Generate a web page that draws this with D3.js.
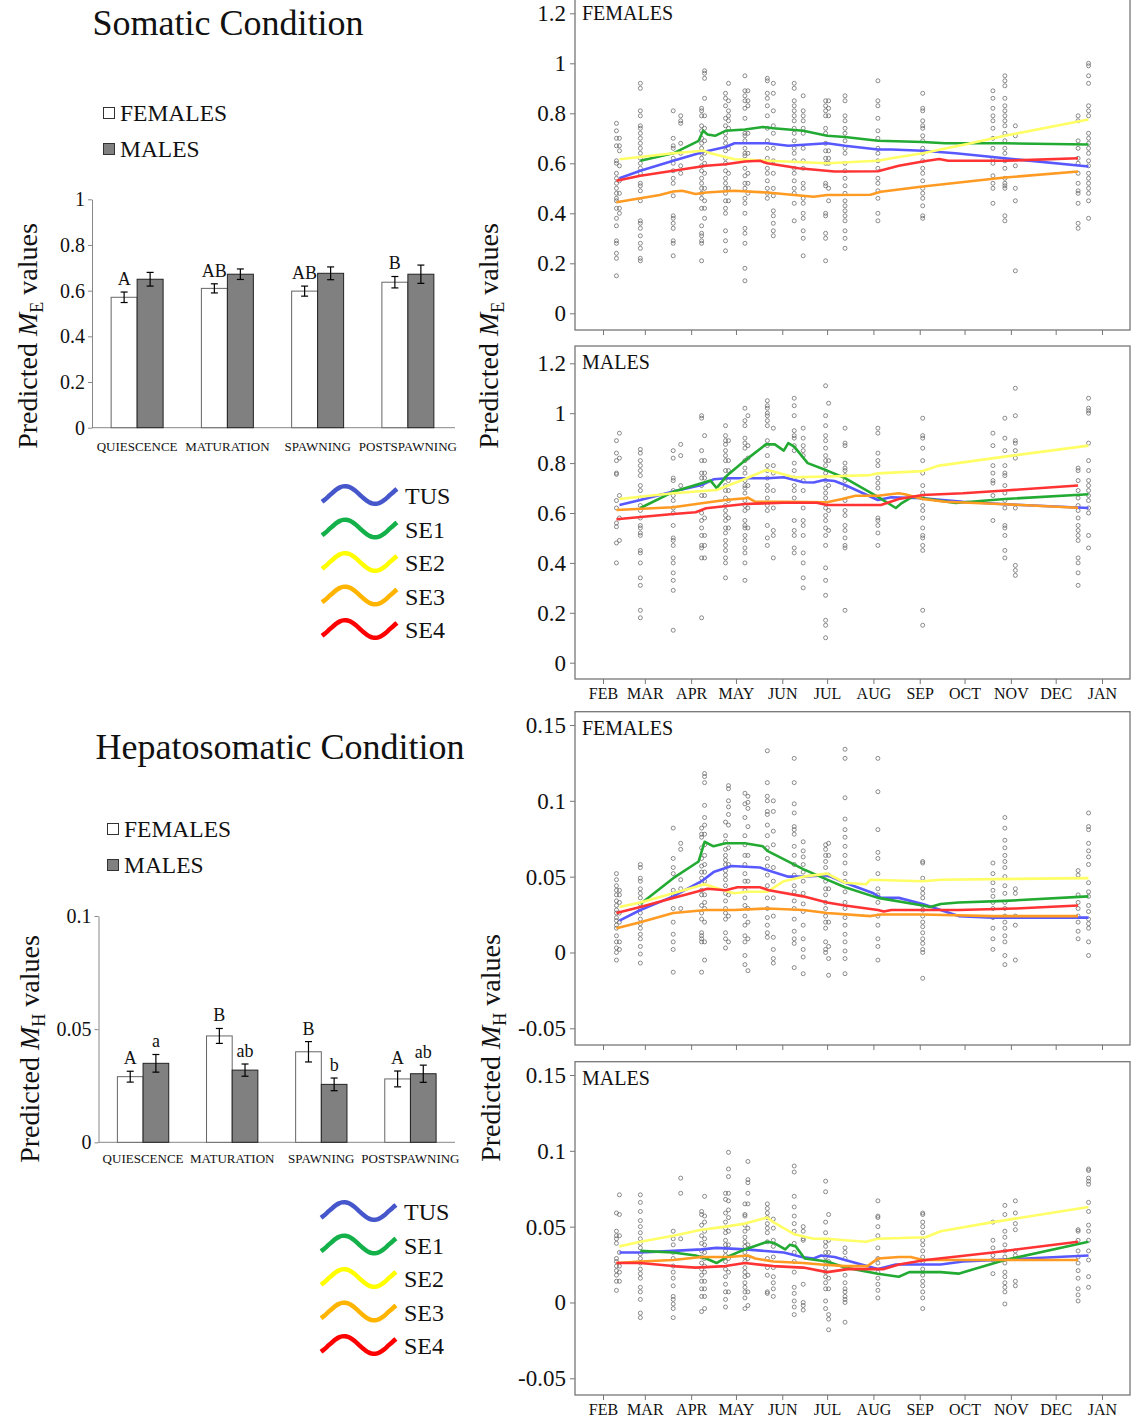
<!DOCTYPE html>
<html>
<head>
<meta charset="utf-8">
<script src="https://cdn.jsdelivr.net/npm/d3@7"></script>
<style>
  body { margin: 0; background: #fff; }
  text { font-family: "Liberation Serif", "Times New Roman", serif; fill: #111; }
</style>
</head>
<body>
<script>
'use strict';

// ---- bar charts (predicted values per reproductive phase) ----
const phases = ["QUIESCENCE", "MATURATION", "SPAWNING", "POSTSPAWNING"];

const meFemales = [0.571, 0.610, 0.598, 0.637];
const meFemalesErr = [0.023, 0.020, 0.022, 0.025];
const meMales = [0.650, 0.672, 0.676, 0.672];
const meMalesErr = [0.030, 0.023, 0.028, 0.040];
const meFemLetters = ["A", "AB", "AB", "B"];
const meMaleLetters = ["", "", "", ""];

const mhFemales = [0.0290, 0.0470, 0.0400, 0.0280];
const mhFemalesErr = [0.0024, 0.0033, 0.0045, 0.0035];
const mhMales = [0.0349, 0.0319, 0.0256, 0.0303];
const mhMalesErr = [0.0039, 0.0027, 0.0028, 0.0038];
const mhFemLetters = ["A", "B", "B", "A"];
const mhMaleLetters = ["a", "ab", "b", "ab"];

const meTicks = [0, 0.2, 0.4, 0.6, 0.8, 1];
const mhTicks = [0, 0.05, 0.1];

// ---- seasonal panels ----
const sites = ["TUS", "SE1", "SE2", "SE3", "SE4"];
const lineColors = ["#5858ff", "#22aa33", "#ffff66", "#ff9a22", "#ff3333"];
const legendColors = ["#4657cc", "#14b04a", "#ffff00", "#ffb400", "#ff0000"];
const months = ["FEB", "MAR", "APR", "MAY", "JUN", "JUL", "AUG", "SEP", "OCT", "NOV", "DEC", "JAN"];
const panelTicksE = [0, 0.2, 0.4, 0.6, 0.8, 1, 1.2];
const panelTicksH = [-0.05, 0, 0.05, 0.1, 0.15];

// sampling dates, days after 1 February
const samplingDays = [9, 11, 25, 47, 52, 66, 68, 82, 84, 95, 97, 110, 114, 128, 134, 149, 151, 162, 184, 214, 261, 269, 276, 318, 325];

// observed values per sampling date (same order as samplingDays)
const femEDots = [
  [0.76,0.73,0.70,0.67,0.61,0.60,0.56,0.54,0.52,0.50,0.48,0.46,0.45,0.42,0.38,0.35,0.29,0.28,0.24,0.22,0.15],
  [0.70,0.67,0.65,0.59,0.53,0.48,0.42,0.40],
  [0.92,0.90,0.81,0.79,0.75,0.74,0.72,0.70,0.68,0.66,0.64,0.62,0.60,0.58,0.56,0.52,0.51,0.49,0.45,0.37,0.36,0.34,0.31,0.28,0.26,0.22,0.21],
  [0.81,0.70,0.67,0.66,0.62,0.60,0.57,0.54,0.52,0.47,0.39,0.38,0.36,0.34,0.29,0.28,0.23],
  [0.79,0.77,0.76,0.68,0.64,0.59,0.56],
  [0.82,0.81,0.79,0.75,0.73,0.70,0.68,0.66,0.64,0.62,0.59,0.57,0.54,0.52,0.50,0.48,0.46,0.42,0.35,0.32,0.31,0.29,0.28,0.21],
  [0.97,0.96,0.94,0.86,0.79,0.74,0.69,0.64,0.60,0.56,0.50,0.45,0.42,0.38],
  [0.88,0.86,0.83,0.78,0.75,0.72,0.70,0.68,0.65,0.62,0.60,0.57,0.54,0.52,0.50,0.48,0.45,0.42,0.40,0.33,0.29,0.25],
  [0.92,0.85,0.81,0.79,0.77,0.74,0.66,0.56,0.50,0.45],
  [0.95,0.89,0.87,0.85,0.82,0.78,0.72,0.71,0.69,0.66,0.64,0.63,0.58,0.55,0.52,0.50,0.46,0.44,0.40,0.34,0.32,0.28,0.18,0.13],
  [0.89,0.85,0.83,0.72,0.64,0.56,0.52,0.48],
  [0.94,0.93,0.88,0.86,0.83,0.79,0.74,0.69,0.66,0.62,0.58,0.56,0.53,0.50,0.48,0.46],
  [0.92,0.88,0.81,0.75,0.72,0.66,0.61,0.56,0.50,0.47,0.41,0.39,0.36,0.33,0.31],
  [0.92,0.90,0.85,0.83,0.81,0.79,0.77,0.74,0.72,0.69,0.66,0.64,0.61,0.58,0.56,0.53,0.50,0.48,0.44,0.37],
  [0.87,0.81,0.79,0.77,0.74,0.72,0.66,0.61,0.58,0.52,0.50,0.46,0.44,0.40,0.38,0.33,0.30,0.23],
  [0.85,0.83,0.81,0.79,0.74,0.72,0.68,0.65,0.62,0.60,0.52,0.51,0.40,0.39,0.32,0.30,0.21],
  [0.85,0.82,0.79,0.65,0.62,0.60,0.50,0.45],
  [0.87,0.85,0.79,0.77,0.74,0.72,0.69,0.66,0.64,0.60,0.57,0.54,0.51,0.48,0.45,0.43,0.41,0.39,0.37,0.33,0.30,0.26],
  [0.93,0.85,0.83,0.78,0.73,0.70,0.66,0.64,0.61,0.58,0.54,0.52,0.49,0.46,0.40,0.37],
  [0.88,0.82,0.81,0.77,0.75,0.74,0.71,0.69,0.66,0.64,0.61,0.58,0.56,0.53,0.50,0.48,0.46,0.43,0.39,0.38],
  [0.89,0.86,0.82,0.79,0.77,0.74,0.70,0.66,0.62,0.60,0.55,0.52,0.50,0.44],
  [0.95,0.93,0.91,0.86,0.83,0.81,0.79,0.77,0.75,0.72,0.69,0.66,0.64,0.61,0.58,0.54,0.52,0.51,0.50,0.39,0.37],
  [0.75,0.71,0.59,0.50,0.45,0.17],
  [0.79,0.77,0.69,0.66,0.62,0.60,0.56,0.52,0.49,0.48,0.44,0.36,0.34],
  [1.00,0.99,0.95,0.92,0.83,0.81,0.79,0.72,0.70,0.68,0.66,0.64,0.61,0.59,0.56,0.54,0.52,0.50,0.48,0.45,0.38]
];

const maleEDots = [
  [0.89,0.84,0.81,0.76,0.755,0.65,0.62,0.56,0.545,0.48,0.40],
  [0.92,0.82,0.67,0.58,0.49],
  [0.855,0.84,0.81,0.79,0.77,0.75,0.71,0.69,0.66,0.63,0.61,0.58,0.55,0.54,0.52,0.51,0.45,0.44,0.40,0.34,0.31,0.21,0.18],
  [0.85,0.82,0.74,0.73,0.69,0.67,0.65,0.62,0.60,0.55,0.50,0.49,0.47,0.42,0.40,0.36,0.33,0.29,0.13],
  [0.875,0.83,0.71],
  [0.99,0.98,0.85,0.81,0.76,0.74,0.71,0.67,0.60,0.57,0.54,0.51,0.47,0.46,0.42,0.18],
  [0.91,0.81,0.76,0.74,0.67,0.58,0.51,0.47,0.42],
  [0.95,0.91,0.89,0.875,0.85,0.83,0.81,0.77,0.74,0.71,0.69,0.66,0.63,0.61,0.59,0.57,0.54,0.52,0.49,0.47,0.45,0.42,0.40,0.34],
  [0.89,0.81,0.77,0.73,0.69,0.65,0.58,0.54],
  [1.02,0.97,0.95,0.90,0.88,0.86,0.81,0.78,0.76,0.73,0.71,0.70,0.68,0.65,0.63,0.61,0.57,0.55,0.54,0.51,0.49,0.46,0.44,0.40,0.33],
  [0.99,0.87,0.82,0.71,0.62,0.54],
  [1.05,1.03,1.02,1.00,0.99,0.97,0.95,0.89,0.87,0.83,0.79,0.77,0.74,0.71,0.69,0.66,0.63,0.61,0.55,0.50,0.47],
  [0.94,0.79,0.76,0.69,0.62,0.53,0.51,0.42],
  [1.06,1.03,0.99,0.93,0.91,0.90,0.87,0.85,0.80,0.77,0.74,0.71,0.69,0.66,0.57,0.53,0.51,0.46,0.44],
  [0.94,0.90,0.87,0.85,0.83,0.73,0.69,0.62,0.57,0.55,0.51,0.44,0.40,0.34,0.30],
  [1.11,0.99,0.95,0.91,0.89,0.86,0.83,0.81,0.79,0.76,0.73,0.70,0.68,0.66,0.64,0.62,0.59,0.57,0.54,0.51,0.47,0.38,0.33,0.27,0.17,0.15,0.10],
  [1.04,0.81,0.71,0.61,0.53],
  [0.94,0.88,0.87,0.80,0.78,0.77,0.75,0.73,0.70,0.65,0.61,0.59,0.55,0.53,0.50,0.47,0.46,0.21],
  [0.94,0.92,0.84,0.81,0.79,0.74,0.72,0.70,0.58,0.57,0.55,0.52,0.47],
  [0.98,0.91,0.90,0.86,0.81,0.76,0.71,0.68,0.66,0.63,0.61,0.58,0.54,0.51,0.50,0.47,0.45,0.21,0.15],
  [0.92,0.87,0.79,0.76,0.73,0.72,0.67,0.57],
  [0.98,0.90,0.85,0.79,0.76,0.75,0.71,0.68,0.65,0.62,0.55,0.54,0.51,0.45,0.42],
  [1.10,0.99,0.89,0.88,0.85,0.82,0.62,0.39,0.37,0.35],
  [0.78,0.77,0.73,0.69,0.66,0.63,0.61,0.58,0.55,0.53,0.51,0.49,0.42,0.40,0.36,0.31],
  [1.06,1.02,1.01,1.00,0.88,0.81,0.77,0.73,0.71,0.69,0.67,0.65,0.62,0.60,0.51,0.46]
];

const femHDots = [
  [0.052,0.048,0.044,0.041,0.038,0.034,0.031,0.028,0.026,0.023,0.021,0.018,0.016,0.011,0.007,0.003,0.000,-0.005],
  [0.041,0.038,0.033,0.026,0.020,0.007,0.002],
  [0.058,0.056,0.049,0.047,0.042,0.039,0.036,0.032,0.029,0.026,0.022,0.019,0.016,0.012,0.009,0.004,-0.001,-0.007],
  [0.082,0.062,0.056,0.052,0.041,0.037,0.029,0.020,0.012,0.007,0.002,-0.013],
  [0.072,0.068,0.048,0.042,0.029],
  [0.082,0.078,0.076,0.069,0.062,0.057,0.053,0.049,0.046,0.041,0.038,0.031,0.026,0.022,0.013,0.011,0.009,0.007,-0.013],
  [0.118,0.116,0.112,0.097,0.089,0.084,0.078,0.071,0.064,0.058,0.053,0.047,0.038,0.033,0.029,0.020,0.007,-0.005],
  [0.086,0.077,0.073,0.068,0.064,0.061,0.058,0.054,0.051,0.048,0.044,0.039,0.034,0.029,0.026,0.022,0.013,0.009,0.003],
  [0.110,0.108,0.100,0.096,0.091,0.084,0.069,0.058,0.038,0.024,0.007],
  [0.105,0.098,0.089,0.077,0.071,0.064,0.058,0.052,0.047,0.041,0.036,0.031,0.024,0.018,0.011,0.007,-0.002,-0.008],
  [0.103,0.099,0.095,0.083,0.064,0.047,0.029,0.020,0.009,-0.012],
  [0.133,0.112,0.103,0.100,0.093,0.091,0.084,0.077,0.069,0.062,0.057,0.051,0.044,0.036,0.029,0.023,0.018,0.013,0.010],
  [0.100,0.093,0.080,0.071,0.056,0.047,0.036,0.024,0.010,0.002,-0.004,-0.007],
  [0.128,0.112,0.098,0.092,0.083,0.081,0.078,0.070,0.064,0.058,0.051,0.044,0.040,0.034,0.029,0.022,0.014,0.009,0.006,-0.010],
  [0.073,0.067,0.063,0.058,0.053,0.047,0.039,0.032,0.027,0.018,0.009,0.002,-0.003,-0.014],
  [0.071,0.068,0.064,0.060,0.056,0.051,0.047,0.042,0.038,0.033,0.029,0.024,0.020,0.016,0.007,0.002,0.000],
  [0.072,0.064,0.051,0.042,0.020,0.004,-0.004,-0.015],
  [0.134,0.128,0.102,0.088,0.081,0.076,0.070,0.064,0.059,0.052,0.047,0.040,0.033,0.029,0.023,0.018,0.012,0.007,0.001,-0.004,-0.014],
  [0.128,0.106,0.081,0.066,0.062,0.052,0.042,0.038,0.033,0.024,0.018,0.009,0.004,-0.005],
  [0.060,0.059,0.049,0.042,0.039,0.036,0.031,0.028,0.024,0.020,0.017,0.013,0.009,0.006,0.002,0.000,-0.017],
  [0.059,0.052,0.046,0.041,0.037,0.033,0.029,0.023,0.016,0.009,0.002],
  [0.089,0.082,0.074,0.069,0.064,0.060,0.056,0.050,0.044,0.039,0.033,0.029,0.024,0.020,0.016,0.011,0.007,-0.002,-0.008],
  [0.042,0.039,0.024,0.018,-0.005],
  [0.054,0.051,0.038,0.033,0.029,0.024,0.020,0.014,0.009],
  [0.092,0.083,0.081,0.072,0.067,0.063,0.058,0.046,0.040,0.037,0.031,0.027,0.022,0.019,0.016,0.007,-0.002]
];

const maleHDots = [
  [0.059,0.047,0.044,0.042,0.039,0.029,0.027,0.024,0.021,0.018,0.014,0.008],
  [0.071,0.058,0.044,0.033,0.024,0.020,0.014],
  [0.071,0.066,0.060,0.054,0.050,0.046,0.042,0.039,0.036,0.032,0.029,0.026,0.022,0.019,0.016,0.010,0.007,0.002,-0.007,-0.010],
  [0.047,0.042,0.038,0.033,0.029,0.024,0.020,0.016,0.011,0.004,0.002,-0.001,-0.004,-0.010],
  [0.082,0.072,0.042],
  [0.060,0.058,0.051,0.044,0.039,0.034,0.030,0.026,0.022,0.018,0.014,0.009,0.004,-0.006],
  [0.070,0.057,0.053,0.047,0.042,0.038,0.033,0.029,0.024,0.020,0.014,0.009,0.004,-0.004],
  [0.072,0.068,0.059,0.053,0.049,0.046,0.041,0.038,0.034,0.031,0.027,0.022,0.017,0.012,0.007,0.002,-0.003],
  [0.099,0.088,0.083,0.072,0.067,0.061,0.056,0.047,0.038,0.029,0.020,0.007],
  [0.065,0.058,0.057,0.051,0.047,0.043,0.040,0.037,0.033,0.030,0.027,0.023,0.020,0.017,0.013,0.010,0.007,0.003,-0.004],
  [0.093,0.081,0.079,0.072,0.065,0.049,0.038,0.029,0.018,0.007,-0.002],
  [0.065,0.062,0.059,0.056,0.052,0.049,0.046,0.040,0.029,0.023,0.018,0.007,0.006],
  [0.055,0.049,0.041,0.037,0.030,0.023,0.017,0.013,0.009,0.004],
  [0.090,0.086,0.070,0.063,0.057,0.052,0.047,0.039,0.033,0.027,0.020,0.010,0.006,0.001,-0.003,-0.008],
  [0.050,0.047,0.042,0.041,0.012,0.000,-0.002,-0.005],
  [0.080,0.073,0.053,0.046,0.040,0.037,0.033,0.030,0.027,0.023,0.020,0.017,0.013,0.009,0.001,-0.004],
  [0.058,0.041,0.033,0.027,0.016,0.009,-0.008,-0.011,-0.018],
  [0.036,0.033,0.029,0.023,0.018,0.013,0.009,0.007,0.004,0.002,0.000,-0.013],
  [0.067,0.057,0.056,0.050,0.044,0.036,0.029,0.026,0.020,0.016,0.012,0.008,0.003],
  [0.059,0.058,0.053,0.050,0.046,0.041,0.038,0.034,0.030,0.027,0.022,0.018,0.014,0.011,0.007,0.003,-0.004],
  [0.053,0.041,0.036,0.031,0.028,0.019],
  [0.064,0.058,0.047,0.043,0.038,0.034,0.030,0.026,0.020,0.017,0.013,0.010,0.007,-0.001],
  [0.067,0.059,0.052,0.048,0.034,0.031,0.014,0.011],
  [0.048,0.047,0.041,0.034,0.030,0.026,0.021,0.016,0.009,0.005,0.001],
  [0.088,0.087,0.082,0.080,0.078,0.066,0.060,0.051,0.047,0.041,0.034,0.028,0.017,0.010]
];

// fitted curves, [day after 1 Feb, value], in site order TUS, SE1, SE2, SE3, SE4
const femELines = [
  [[11,0.54],[25,0.57],[47,0.61],[67,0.645],[82,0.665],[88,0.68],[110,0.68],[124,0.67],[150,0.68],[162,0.67],[184,0.655],[193,0.655],[214,0.65],[236,0.64],[269,0.62],[325,0.587]],
  [[25,0.61],[47,0.64],[64,0.69],[67,0.73],[70,0.715],[75,0.71],[82,0.73],[95,0.735],[107,0.745],[114,0.74],[134,0.73],[150,0.71],[162,0.705],[184,0.69],[214,0.685],[229,0.68],[269,0.68],[325,0.675]],
  [[11,0.616],[25,0.625],[47,0.64],[67,0.65],[72,0.64],[88,0.616],[110,0.61],[150,0.60],[184,0.61],[193,0.62],[214,0.64],[246,0.68],[269,0.71],[325,0.775]],
  [[9,0.444],[25,0.46],[38,0.473],[47,0.487],[53,0.49],[62,0.477],[69,0.483],[88,0.49],[110,0.483],[128,0.473],[141,0.466],[150,0.473],[179,0.474],[186,0.486],[214,0.507],[269,0.543],[318,0.567]],
  [[9,0.53],[25,0.55],[47,0.57],[69,0.59],[82,0.596],[95,0.607],[105,0.61],[110,0.60],[131,0.58],[155,0.567],[184,0.568],[198,0.59],[214,0.607],[225,0.617],[231,0.61],[269,0.61],[318,0.62]]
];
const maleELines = [
  [[11,0.632],[25,0.652],[47,0.686],[66,0.712],[74,0.735],[83,0.739],[110,0.739],[121,0.743],[134,0.723],[141,0.722],[148,0.732],[155,0.728],[162,0.712],[184,0.652],[193,0.663],[214,0.659],[241,0.645],[269,0.635],[325,0.62]],
  [[25,0.62],[47,0.685],[72,0.73],[76,0.70],[83,0.75],[95,0.81],[109,0.875],[115,0.875],[121,0.85],[124,0.88],[128,0.866],[137,0.80],[150,0.77],[162,0.74],[184,0.665],[196,0.62],[200,0.64],[207,0.665],[236,0.64],[269,0.656],[325,0.675]],
  [[11,0.656],[47,0.679],[76,0.692],[95,0.736],[109,0.772],[114,0.766],[128,0.743],[150,0.746],[179,0.752],[184,0.759],[214,0.768],[225,0.79],[269,0.826],[325,0.87]],
  [[9,0.612],[47,0.623],[66,0.639],[82,0.652],[95,0.659],[97,0.662],[102,0.645],[121,0.645],[150,0.643],[160,0.656],[169,0.669],[184,0.669],[198,0.679],[202,0.675],[214,0.656],[229,0.645],[269,0.635],[318,0.621]],
  [[9,0.575],[47,0.596],[62,0.603],[69,0.619],[95,0.636],[121,0.641],[143,0.641],[150,0.632],[186,0.632],[198,0.656],[214,0.672],[241,0.679],[269,0.69],[318,0.71]]
];
const femHLines = [
  [[11,0.021],[25,0.028],[47,0.037],[66,0.047],[74,0.053],[86,0.057],[105,0.056],[114,0.053],[124,0.05],[134,0.05],[150,0.051],[162,0.046],[181,0.039],[186,0.036],[198,0.036],[214,0.032],[238,0.024],[261,0.023],[325,0.023]],
  [[25,0.032],[47,0.049],[64,0.06],[68,0.073],[74,0.070],[82,0.072],[95,0.072],[107,0.070],[110,0.067],[134,0.055],[150,0.048],[162,0.043],[184,0.036],[214,0.031],[219,0.030],[226,0.032],[238,0.033],[269,0.034],[325,0.037]],
  [[11,0.03],[25,0.033],[47,0.039],[68,0.045],[84,0.04],[88,0.039],[97,0.04],[110,0.04],[121,0.047],[134,0.05],[150,0.052],[162,0.046],[176,0.045],[179,0.048],[214,0.047],[226,0.048],[325,0.049]],
  [[9,0.016],[25,0.02],[47,0.026],[69,0.028],[88,0.028],[110,0.029],[134,0.028],[150,0.026],[179,0.024],[186,0.025],[214,0.025],[261,0.024],[318,0.024]],
  [[9,0.026],[25,0.03],[47,0.036],[70,0.042],[82,0.041],[90,0.043],[105,0.043],[111,0.041],[134,0.037],[150,0.033],[162,0.031],[184,0.028],[188,0.027],[193,0.028],[214,0.028],[238,0.028],[276,0.029],[318,0.031]]
];
const maleHLines = [
  [[11,0.033],[25,0.033],[47,0.034],[66,0.035],[76,0.036],[95,0.035],[121,0.033],[133,0.030],[141,0.029],[146,0.031],[155,0.030],[162,0.028],[184,0.022],[188,0.023],[196,0.025],[214,0.025],[226,0.025],[241,0.027],[325,0.031]],
  [[25,0.034],[47,0.033],[62,0.031],[69,0.029],[76,0.026],[83,0.030],[95,0.035],[110,0.040],[115,0.039],[122,0.035],[125,0.038],[129,0.037],[135,0.029],[150,0.027],[162,0.023],[184,0.019],[198,0.017],[205,0.020],[226,0.020],[238,0.019],[269,0.028],[325,0.040]],
  [[11,0.037],[25,0.040],[47,0.044],[66,0.048],[82,0.050],[95,0.052],[110,0.056],[114,0.053],[128,0.045],[141,0.042],[150,0.042],[162,0.041],[176,0.040],[184,0.042],[216,0.043],[226,0.047],[261,0.053],[325,0.063]],
  [[9,0.026],[25,0.027],[47,0.028],[66,0.030],[84,0.030],[97,0.031],[102,0.029],[114,0.027],[134,0.026],[146,0.025],[162,0.024],[177,0.024],[184,0.029],[198,0.030],[206,0.030],[214,0.028],[269,0.028],[318,0.028]],
  [[9,0.026],[25,0.026],[47,0.024],[62,0.023],[82,0.024],[95,0.026],[114,0.024],[134,0.023],[150,0.020],[164,0.022],[188,0.022],[198,0.025],[216,0.028],[261,0.033],[318,0.040]]
];

(function() {
  let svgContainer = "";
  const startDate = new Date(2011, 1, 1);
  const fmt = (d) => String(+d.toFixed(2));
  const dayDate = (d) => d3.timeDay.offset(startDate, d);

  window.onload = function() {
    svgContainer = d3.select('body')
      .append('svg')
      .attr('width', 1131)
      .attr('height', 1421);

    // somatic block
    makeTitle("Somatic Condition", 228, 35);
    makeSexLegend(103, 107);
    drawBars({
      xRange: [92, 453], domain: [0, 1], yRange: [427.7, 199.3], ticks: meTicks,
      fem: meFemales, femErr: meFemalesErr, male: meMales, maleErr: meMalesErr,
      femLetters: meFemLetters, maleLetters: meMaleLetters, labelY: 451
    });
    yLabel(37, 336, "E");
    makeLineLegend(322, 495);

    drawPanel({ top: -3, bottom: 330, domain: [0, 1.2], yRange: [313.3, 13.3], ticks: panelTicksE,
      dots: femEDots, lines: femELines, label: "FEMALES", months: false });
    drawPanel({ top: 346, bottom: 679, domain: [0, 1.2], yRange: [662.7, 363.3], ticks: panelTicksE,
      dots: maleEDots, lines: maleELines, label: "MALES", months: true });
    yLabel(498, 336, "E");

    // hepatosomatic block
    makeTitle("Hepatosomatic Condition", 280, 759);
    makeSexLegend(107, 823);
    drawBars({
      xRange: [98.5, 455], domain: [0, 0.1], yRange: [1142.3, 916], ticks: mhTicks,
      fem: mhFemales, femErr: mhFemalesErr, male: mhMales, maleErr: mhMalesErr,
      femLetters: mhFemLetters, maleLetters: mhMaleLetters, labelY: 1163
    });
    yLabel(39, 1049, "H");
    makeLineLegend(321, 1211);

    drawPanel({ top: 711.7, bottom: 1045, domain: [-0.05, 0.15], yRange: [1028.3, 725], ticks: panelTicksH,
      dots: femHDots, lines: femHLines, label: "FEMALES", months: false });
    drawPanel({ top: 1061.7, bottom: 1395, domain: [-0.05, 0.15], yRange: [1378.3, 1075], ticks: panelTicksH,
      dots: maleHDots, lines: maleHLines, label: "MALES", months: true });
    yLabel(500, 1048, "H");
  };

  function makeTitle(txt, x, y) {
    svgContainer.append('text')
      .attr('x', x)
      .attr('y', y)
      .attr('text-anchor', 'middle')
      .style('font-size', '36px')
      .text(txt);
  }

  function yLabel(x, y, sub) {
    let t = svgContainer.append('text')
      .attr('transform', 'translate(' + x + ',' + y + ')rotate(-90)')
      .attr('text-anchor', 'middle')
      .style('font-size', '28px');
    t.append('tspan').text('Predicted ');
    t.append('tspan').style('font-style', 'italic').text('M');
    t.append('tspan').attr('dy', 6).style('font-size', '18px').text(sub);
    t.append('tspan').attr('dy', -6).text(' values');
  }

  function makeSexLegend(x, y) {
    let items = [["FEMALES", "#fff", "#333"], ["MALES", "#808080", "#333"]];
    items.forEach((it, i) => {
      svgContainer.append('rect')
        .attr('x', x + 0.5).attr('y', y + i * 36 + 0.5)
        .attr('width', 11).attr('height', 11)
        .attr('fill', it[1]).attr('stroke', it[2]).attr('stroke-width', 1);
      svgContainer.append('text')
        .attr('x', x + 17).attr('y', y + 14 + i * 36)
        .style('font-size', '23.5px')
        .text(it[0]);
    });
  }

  function makeLineLegend(x, y) {
    let wave = d3.line().curve(d3.curveBasis);
    sites.forEach((s, i) => {
      let yc = y + i * 33.5;
      let pts = d3.range(0, 76, 3).map((t) => [x + t, yc - 9 * Math.sin(2 * Math.PI * t / 60 - 0.84)]);
      svgContainer.append('path')
        .attr('d', wave(pts))
        .attr('fill', 'none')
        .attr('stroke', legendColors[i])
        .attr('stroke-width', 4.5);
      svgContainer.append('text')
        .attr('x', x + 83).attr('y', yc + 9)
        .style('font-size', '24px')
        .text(s);
    });
  }

  function drawBars(cfg) {
    let x0 = d3.scaleBand()
      .domain(phases)
      .range(cfg.xRange)
      .paddingInner(0.424)
      .paddingOuter(0.212);
    let x1 = d3.scaleBand()
      .domain(['F', 'M'])
      .range([0, x0.bandwidth()]);
    let y = d3.scaleLinear()
      .domain(cfg.domain)
      .range(cfg.yRange);

    let axis = svgContainer.append('g')
      .attr('transform', 'translate(' + cfg.xRange[0] + ',0)')
      .call(d3.axisLeft(y).tickValues(cfg.ticks).tickSize(4).tickSizeOuter(0).tickPadding(3).tickFormat(fmt));
    axis.select('.domain').attr('stroke', '#888');
    axis.selectAll('.tick line').attr('stroke', '#888');
    axis.selectAll('text').style('font-size', '20px').style('font-family', '"Liberation Serif", serif').attr('fill', '#111');

    svgContainer.append('line')
      .attr('x1', cfg.xRange[0]).attr('x2', 455)
      .attr('y1', y(0)).attr('y2', y(0))
      .attr('stroke', '#888');

    svgContainer.selectAll(null)
      .data(phases)
      .enter()
      .append('text')
      .attr('x', (d) => x0(d) + x0.bandwidth() / 2)
      .attr('y', cfg.labelY)
      .attr('text-anchor', 'middle')
      .style('font-size', '13px')
      .text((d) => d);

    let groups = [
      { key: 'F', vals: cfg.fem, errs: cfg.femErr, letters: cfg.femLetters, fill: '#fff', stroke: '#666' },
      { key: 'M', vals: cfg.male, errs: cfg.maleErr, letters: cfg.maleLetters, fill: '#808080', stroke: '#222' }
    ];
    groups.forEach((g) => {
      let rows = phases.map((p, i) => ({ p: p, v: g.vals[i], e: g.errs[i], l: g.letters[i] }));
      let cx = (d) => x0(d.p) + x1(g.key) + x1.bandwidth() / 2;
      svgContainer.selectAll(null)
        .data(rows)
        .enter()
        .append('rect')
        .attr('x', (d) => x0(d.p) + x1(g.key))
        .attr('y', (d) => y(d.v))
        .attr('width', x1.bandwidth())
        .attr('height', (d) => y(0) - y(d.v))
        .attr('fill', g.fill)
        .attr('stroke', g.stroke)
        .attr('stroke-width', 1);
      rows.forEach((d) => {
        let c = cx(d);
        let top = y(d.v + d.e), bot = y(d.v - d.e);
        svgContainer.append('line').attr('x1', c).attr('x2', c).attr('y1', top).attr('y2', bot)
          .attr('stroke', '#000').attr('stroke-width', 1.2);
        [top, bot].forEach((yy) => {
          svgContainer.append('line').attr('x1', c - 3.5).attr('x2', c + 3.5).attr('y1', yy).attr('y2', yy)
            .attr('stroke', '#000').attr('stroke-width', 1.2);
        });
        if (d.l) {
          svgContainer.append('text')
            .attr('x', c).attr('y', top - 7)
            .attr('text-anchor', 'middle')
            .style('font-size', '18px')
            .text(d.l);
        }
      });
    });
  }

  function drawPanel(cfg) {
    let xScale = d3.scaleTime()
      .domain([startDate, new Date(2012, 0, 1)])
      .range([603, 1102]);
    let yScale = d3.scaleLinear()
      .domain(cfg.domain)
      .range(cfg.yRange);
    let left = 575, right = 1130;

    svgContainer.append('rect')
      .attr('x', left).attr('y', cfg.top)
      .attr('width', right - left).attr('height', cfg.bottom - cfg.top)
      .attr('fill', 'none').attr('stroke', '#777').attr('stroke-width', 1.3);

    let yAxis = svgContainer.append('g')
      .attr('transform', 'translate(' + left + ',0)')
      .call(d3.axisLeft(yScale).tickValues(cfg.ticks).tickSize(5).tickPadding(4).tickFormat(fmt));
    yAxis.select('.domain').remove();
    yAxis.selectAll('.tick line').attr('stroke', '#777');
    yAxis.selectAll('text').style('font-size', '23px').style('font-family', '"Liberation Serif", serif').attr('fill', '#111');

    let monthDates = d3.timeMonth.range(startDate, new Date(2012, 0, 2));
    let xAxis = svgContainer.append('g')
      .attr('transform', 'translate(0,' + cfg.bottom + ')')
      .call(d3.axisBottom(xScale).tickValues(monthDates).tickSize(5).tickPadding(4)
        .tickFormat((d, i) => cfg.months ? months[i] : ''));
    xAxis.select('.domain').remove();
    xAxis.selectAll('.tick line').attr('stroke', '#777');
    xAxis.selectAll('text').style('font-size', '16px').style('font-family', '"Liberation Serif", serif').attr('fill', '#111');

    svgContainer.append('text')
      .attr('x', 582).attr('y', cfg.top + 23)
      .style('font-size', '20px')
      .text(cfg.label);

    let points = cfg.dots.flatMap((col, i) => col.map((v) => ({ day: samplingDays[i], v: v })));
    svgContainer.append('g')
      .selectAll('circle')
      .data(points)
      .enter()
      .append('circle')
      .attr('cx', (d) => xScale(dayDate(d.day)))
      .attr('cy', (d) => yScale(d.v))
      .attr('r', 2)
      .attr('fill', 'none')
      .attr('stroke', '#666')
      .attr('stroke-width', 0.75);

    let line = d3.line()
      .x((d) => xScale(dayDate(d[0])))
      .y((d) => yScale(d[1]));
    cfg.lines.forEach((series, i) => {
      svgContainer.append('path')
        .attr('d', line(series))
        .attr('fill', 'none')
        .attr('stroke', lineColors[i])
        .attr('stroke-width', 2.6)
        .attr('stroke-linejoin', 'round');
    });
  }
})();
</script>
</body>
</html>
